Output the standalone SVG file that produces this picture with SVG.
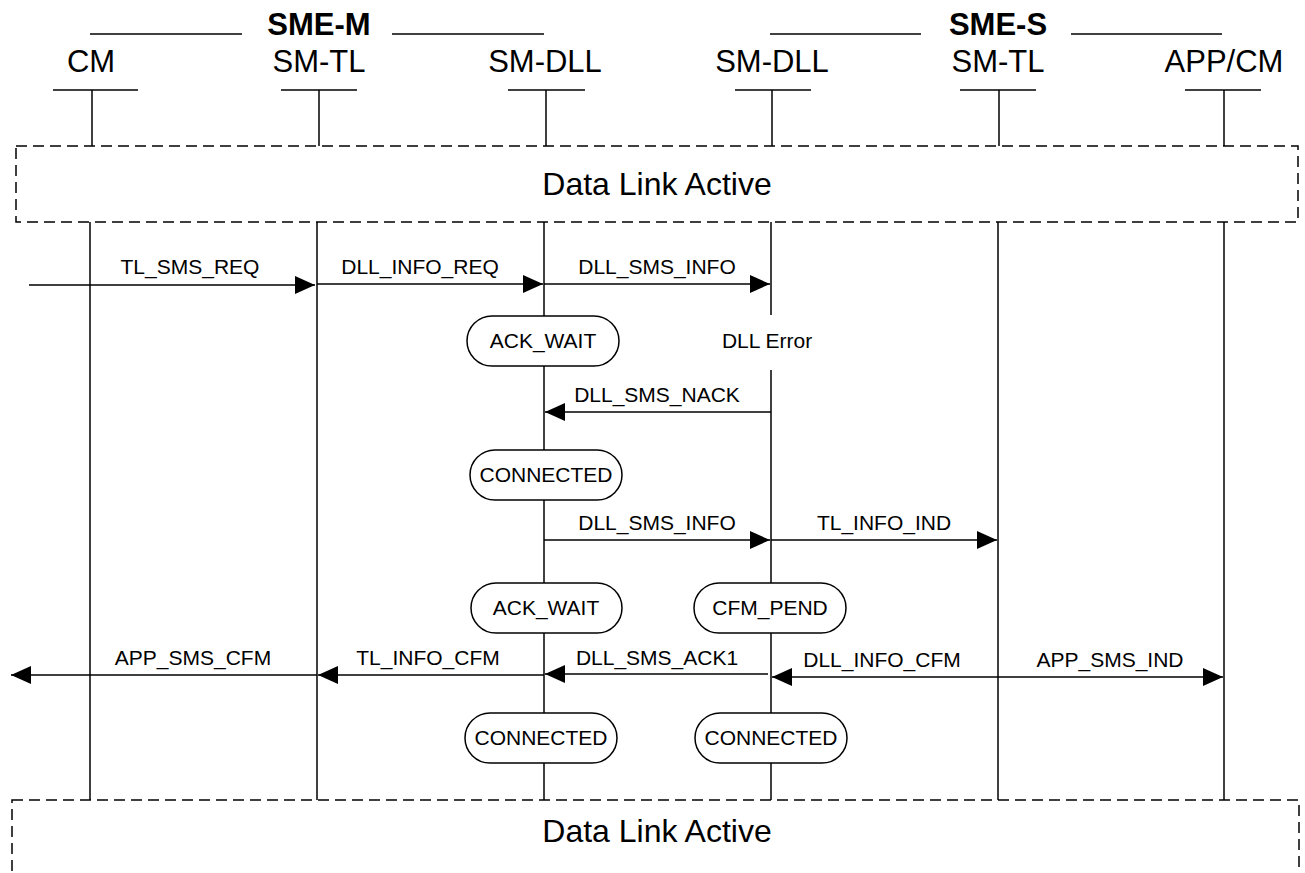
<svg xmlns="http://www.w3.org/2000/svg" width="1305" height="873" viewBox="0 0 1305 873">
<defs>
<style>
text{font-family:"Liberation Sans",Arial,sans-serif;fill:#000;text-anchor:middle}
.grp{font-size:31px;font-weight:bold}
.part{font-size:31px}
.dla{font-size:32px}
.msg{font-size:21px}
.st{font-size:21px}
.ln{stroke:#000;stroke-width:1.5;fill:none}
.dash{stroke:#000;stroke-width:1.5;fill:none;stroke-dasharray:11 6}
.state{fill:#fff;stroke:#000;stroke-width:1.5}
.arr{stroke:#000;stroke-width:1.5;fill:none;marker-end:url(#ah)}
</style>
<marker id="ah" markerUnits="userSpaceOnUse" markerWidth="22" markerHeight="20" viewBox="0 0 22 20" refX="20" refY="10" orient="auto">
<path d="M0,1 L20,10 L0,19 Z" fill="#000"/>
</marker>
</defs>
<rect width="1305" height="873" fill="#fff"/>

<g id="group-sme-m">
<text class="grp" x="319" y="35">SME-M</text>
<line class="ln" x1="90" y1="34" x2="242" y2="34"/>
<line class="ln" x1="392" y1="34" x2="544" y2="34"/>
</g>
<g id="group-sme-s">
<text class="grp" x="998" y="35">SME-S</text>
<line class="ln" x1="770" y1="34" x2="921" y2="34"/>
<line class="ln" x1="1071" y1="34" x2="1222" y2="34"/>
</g>

<g id="p-cm"><text class="part" x="91" y="72">CM</text><line class="ln" x1="53" y1="90" x2="138" y2="90"/><line class="ln" x1="92" y1="90" x2="92" y2="146"/></g>
<g id="p-smtl-m"><text class="part" x="319" y="72">SM-TL</text><line class="ln" x1="281" y1="90" x2="357" y2="90"/><line class="ln" x1="319" y1="90" x2="319" y2="146"/></g>
<g id="p-smdll-m"><text class="part" x="545" y="72">SM-DLL</text><line class="ln" x1="508" y1="90" x2="585" y2="90"/><line class="ln" x1="546" y1="90" x2="546" y2="146"/></g>
<g id="p-smdll-s"><text class="part" x="772" y="72">SM-DLL</text><line class="ln" x1="735" y1="90" x2="811" y2="90"/><line class="ln" x1="772" y1="90" x2="772" y2="146"/></g>
<g id="p-smtl-s"><text class="part" x="998" y="72">SM-TL</text><line class="ln" x1="960" y1="90" x2="1036" y2="90"/><line class="ln" x1="999" y1="90" x2="999" y2="146"/></g>
<g id="p-appcm"><text class="part" x="1224" y="72">APP/CM</text><line class="ln" x1="1185" y1="90" x2="1261" y2="90"/><line class="ln" x1="1224" y1="90" x2="1224" y2="146"/></g>

<g id="dla-top">
<rect class="dash" x="16" y="146" width="1282" height="76"/>
<text class="dla" x="657" y="195">Data Link Active</text>
</g>

<g id="lifelines">
<line class="ln" x1="90" y1="222" x2="90" y2="800"/>
<line class="ln" x1="317" y1="222" x2="317" y2="800"/>
<line class="ln" x1="544" y1="222" x2="544" y2="800"/>
<line class="ln" x1="771" y1="222" x2="771" y2="315"/>
<line class="ln" x1="771" y1="370" x2="771" y2="800"/>
<line class="ln" x1="998" y1="222" x2="998" y2="800"/>
<line class="ln" x1="1224" y1="222" x2="1224" y2="800"/>
</g>

<g id="connectors">
<line class="arr" x1="29" y1="285" x2="315" y2="285"/>
<line class="arr" x1="317" y1="284" x2="543" y2="284"/>
<line class="arr" x1="544" y1="284" x2="770" y2="284"/>
<line class="arr" x1="771" y1="412" x2="545" y2="412"/>
<line class="arr" x1="544" y1="540" x2="770" y2="540"/>
<line class="arr" x1="771" y1="540" x2="997" y2="540"/>
<line class="arr" x1="317" y1="675" x2="11" y2="675"/>
<line class="arr" x1="544" y1="675" x2="318" y2="675"/>
<line class="arr" x1="768" y1="674" x2="545" y2="674"/>
<line class="arr" x1="998" y1="677" x2="772" y2="677"/>
<line class="arr" x1="998" y1="677" x2="1223" y2="677"/>
</g>

<g id="msg-labels">
<text class="msg" x="190" y="274">TL_SMS_REQ</text>
<text class="msg" x="420" y="274">DLL_INFO_REQ</text>
<text class="msg" x="657" y="274">DLL_SMS_INFO</text>
<text class="msg" x="657" y="402">DLL_SMS_NACK</text>
<text class="msg" x="657" y="530">DLL_SMS_INFO</text>
<text class="msg" x="884" y="530">TL_INFO_IND</text>
<text class="msg" x="193" y="665">APP_SMS_CFM</text>
<text class="msg" x="428" y="665">TL_INFO_CFM</text>
<text class="msg" x="657" y="665">DLL_SMS_ACK1</text>
<text class="msg" x="882" y="667">DLL_INFO_CFM</text>
<text class="msg" x="1110" y="667">APP_SMS_IND</text>
</g>

<g id="s-ackwait1"><rect class="state" x="467" y="316" width="152" height="50" rx="25"/><text class="st" x="543" y="348">ACK_WAIT</text></g>
<g id="dll-error"><text class="st" x="767" y="348">DLL Error</text></g>
<g id="s-connected1"><rect class="state" x="470" y="450" width="152" height="50" rx="25"/><text class="st" x="546" y="482">CONNECTED</text></g>
<g id="s-ackwait2"><rect class="state" x="471" y="583" width="151" height="50" rx="25"/><text class="st" x="546" y="615">ACK_WAIT</text></g>
<g id="s-cfmpend"><rect class="state" x="694" y="583" width="152" height="50" rx="25"/><text class="st" x="770" y="615">CFM_PEND</text></g>
<g id="s-connected2"><rect class="state" x="465" y="713" width="152" height="50" rx="25"/><text class="st" x="541" y="745">CONNECTED</text></g>
<g id="s-connected3"><rect class="state" x="695" y="713" width="152" height="50" rx="25"/><text class="st" x="771" y="745">CONNECTED</text></g>

<g id="dla-bottom">
<rect class="dash" x="12" y="800" width="1287" height="100"/>
<text class="dla" x="657" y="842">Data Link Active</text>
</g>
</svg>
